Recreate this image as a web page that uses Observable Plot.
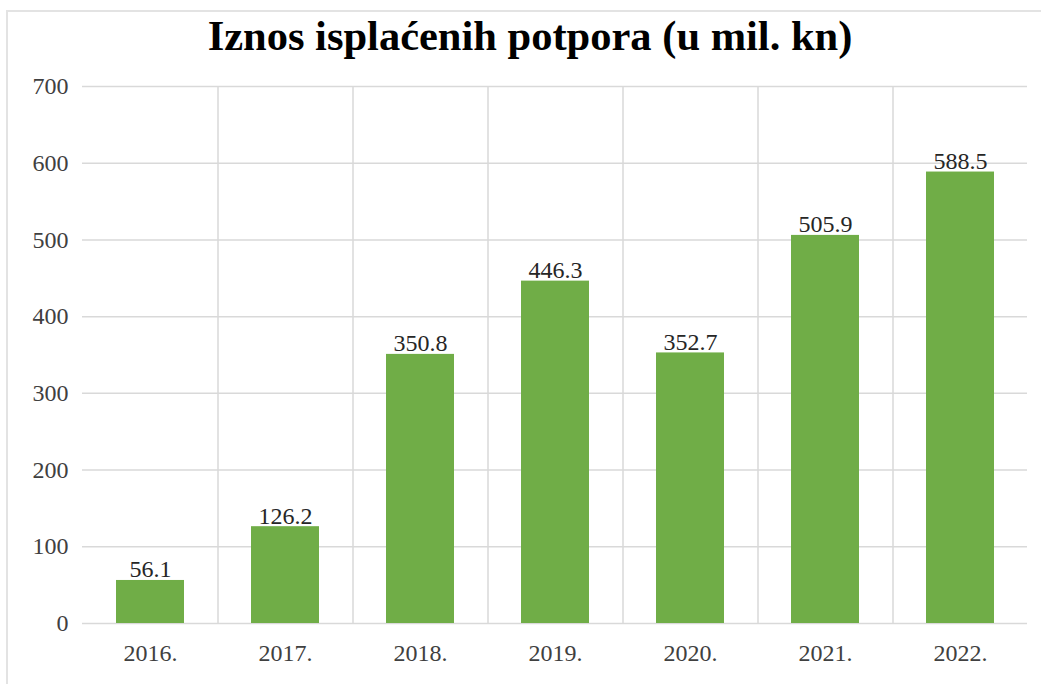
<!DOCTYPE html>
<html>
<head>
<meta charset="utf-8">
<script src="https://cdn.jsdelivr.net/npm/d3@7"></script>
<script src="https://cdn.jsdelivr.net/npm/@observablehq/plot@0.6"></script>
<style>
  html, body { margin: 0; padding: 0; background: #fff; }
  #wrap { position: relative; width: 1041px; height: 684px; overflow: hidden; }
  #frame { position: absolute; left: 6px; top: 10px; width: 1100px; height: 700px;
           border-top: 2px solid #e3e3e3; border-left: 2px solid #e3e3e3; box-sizing: border-box; }
  #title { position: absolute; left: 0; width: 1060px; top: 9px; text-align: center;
           font-family: "Liberation Serif", "Times New Roman", serif; font-weight: bold;
           font-size: 42.5px; color: #000; line-height: 54px; }
  #chart { position: absolute; left: 0; top: 0; }
</style>
</head>
<body>
<div id="wrap">
  <div id="frame"></div>
  <div id="chart"></div>
  <div id="title">Iznos isplaćenih potpora (u mil. kn)</div>
</div>
<script>
const years = ["2016.", "2017.", "2018.", "2019.", "2020.", "2021.", "2022."];
const values = [56.1, 126.2, 350.8, 446.3, 352.7, 505.9, 588.5];
const yTicks = [0, 100, 200, 300, 400, 500, 600, 700];

const data = years.map((y, i) => ({year: y, value: values[i]}));
const step = (1041 - 82 - 14) / years.length;

const chart = Plot.plot({
  width: 1041,
  height: 684,
  marginTop: 86,
  marginBottom: 61,
  marginLeft: 82,
  marginRight: 14,
  style: {fontFamily: "'Liberation Serif', 'Times New Roman', serif", background: "transparent"},
  x: {domain: years, paddingInner: 0.5, paddingOuter: 0.25, label: null},
  y: {domain: [0, 700], label: null},
  marks: [
    Plot.ruleY(yTicks, {stroke: "#d9d9d9", strokeWidth: 1.5}),
    Plot.ruleX(years.slice(1), {x: d => d, dx: -step / 2, stroke: "#d9d9d9", strokeWidth: 1.5}),
    Plot.barY(data, {x: "year", y: "value", fill: "#70AD47"}),
    Plot.text(data, {x: "year", y: "value", text: d => d.value.toFixed(1), dy: -3,
      lineAnchor: "bottom", fontSize: 24, fill: "#262626"}),
    Plot.axisY({ticks: yTicks, tickSize: 0, tickPadding: 14, fontSize: 24, color: "#404040", label: null}),
    Plot.axisX({tickSize: 0, tickPadding: 20, fontSize: 24, color: "#404040", label: null})
  ]
});
document.getElementById("chart").appendChild(chart);
</script>
</body>
</html>
